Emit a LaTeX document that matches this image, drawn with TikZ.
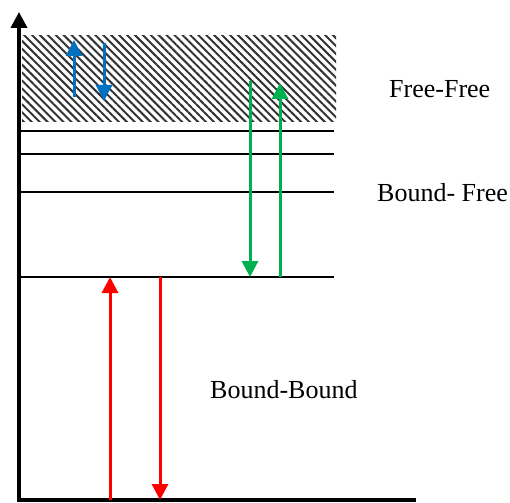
\documentclass[tikz,border=0pt]{standalone}
\usepackage{fontspec}
\setmainfont{Liberation Serif}
\usetikzlibrary{arrows.meta,patterns.meta}
\definecolor{ffBlue}{HTML}{0070C0}
\definecolor{bfGreen}{HTML}{00B050}
\definecolor{bbRed}{HTML}{FF0000}

\begin{document}
\begin{tikzpicture}[x=1pt,y=-1pt,
    level/.style={line width=2.6pt},
    trans/.style={line width=3pt,-{Triangle[width=16pt,length=16pt]}},
    lbl/.style={font=\fontsize{26}{30}\selectfont,anchor=base west,inner sep=0pt}]
  \useasboundingbox (0,0) rectangle (510,502);
  % continuum (hatched)
  \fill[pattern={Lines[angle=-45,distance=5.6pt,line width=2pt]},pattern color=black!80]
    (22,36) rectangle (336,122);
  % axes
  \coordinate (top) at (19,12);
  \coordinate (o) at (19,500);
  \coordinate (xend) at (416,500);
  \draw[line width=3.6pt,{Triangle[width=16pt,length=16pt]}-] (top) -- (o) -- (xend);
  % bound levels
  \foreach \y/\n in {131/l1,154/l2,192/l3,277/l4}{
    \coordinate (\n a) at (19,\y);
    \coordinate (\n b) at (334,\y);
    \draw[level] (\n a) -- (\n b);
  }
  % free-free
  \coordinate (b1s) at (74,97);  \coordinate (b1e) at (74,40);
  \coordinate (b2s) at (104,43); \coordinate (b2e) at (104,101);
  \draw[trans,ffBlue] (b1s) -- (b1e);
  \draw[trans,ffBlue] (b2s) -- (b2e);
  % bound-free
  \coordinate (g1s) at (250,81);  \coordinate (g1e) at (250,277);
  \coordinate (g2s) at (280,277); \coordinate (g2e) at (280,83);
  \draw[trans,bfGreen] (g1s) -- (g1e);
  \draw[trans,bfGreen] (g2s) -- (g2e);
  % bound-bound
  \coordinate (r1s) at (110,500); \coordinate (r1e) at (110,277);
  \coordinate (r2s) at (160,277); \coordinate (r2e) at (160,500);
  \draw[trans,bbRed] (r1s) -- (r1e);
  \draw[trans,bbRed] (r2s) -- (r2e);
  % labels
  \node[lbl] (ff) at (389,98) {Free-Free};
  \node[lbl] (bf) at (377,202) {Bound- Free};
  \node[lbl] (bb) at (210,398) {Bound-Bound};
\end{tikzpicture}
\end{document}
